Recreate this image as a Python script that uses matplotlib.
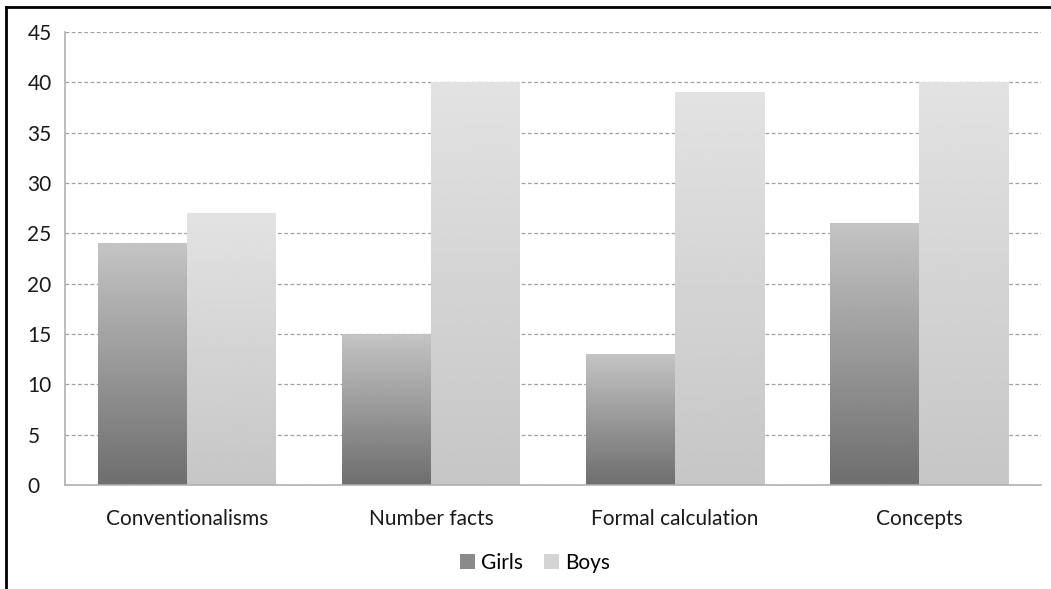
import numpy as np
import matplotlib.pyplot as plt
from matplotlib.patches import Patch
from matplotlib.lines import Line2D
plt.rcParams['font.family'] = ['Lato', 'DejaVu Sans']

categories = ['Conventionalisms', 'Number facts', 'Formal calculation', 'Concepts']
girls = [24, 15, 13, 26]
boys = [27, 40, 39, 40]

fig = plt.figure(figsize=(10.51, 5.89), dpi=100)
ax = fig.add_axes([65/1051, 1-485/589, (1041-65)/1051, (485-32)/589])

x = np.arange(len(categories))
w = 89/244

def grad_bar(xc, h, top, bottom):
    # vertical gradient from bottom colour to top colour
    g = np.linspace(bottom, top, 256).reshape(-1, 1)
    ax.imshow(g, cmap='gray', vmin=0, vmax=1, origin='lower', aspect='auto',
              extent=[xc - w/2, xc + w/2, 0, h], zorder=2)

for i in range(len(categories)):
    grad_bar(x[i] - w/2, girls[i], 0xc4/255, 0x6e/255)
    grad_bar(x[i] + w/2, boys[i], 0xe2/255, 0xc6/255)

ax.set_xlim(-0.5, len(categories) - 0.5)
ax.set_ylim(0, 45)
ax.set_yticks(range(0, 46, 5))
ax.set_xticks(x)
ax.set_xticklabels(categories)
ax.tick_params(length=0, labelsize=15, colors='#1a1a1a')
ax.tick_params(axis='y', pad=27)
ax.tick_params(axis='x', pad=17)
for lbl in ax.get_yticklabels():
    lbl.set_horizontalalignment('left')
ax.yaxis.grid(True, linestyle=(0, (3, 2)), color='#a0a0a0', linewidth=0.9)
ax.set_axisbelow(True)
for s in ['top', 'right']:
    ax.spines[s].set_visible(False)
for s in ['left', 'bottom']:
    ax.spines[s].set_color('#b0b0b0')
    ax.spines[s].set_linewidth(1.2)

handles = [Patch(facecolor='#8a8a8a', edgecolor='none', label='Girls'),
           Patch(facecolor='#d4d4d4', edgecolor='none', label='Boys')]
fig.legend(handles=handles, loc='center', bbox_to_anchor=(535/1051, 1-563/589), ncol=2,
           frameon=False, fontsize=15, handlelength=0.7, handleheight=0.7,
           handletextpad=0.3, columnspacing=1.0)

# outer frame (left and top visible)
fig.add_artist(Line2D([5.5/1051, 5.5/1051], [0, 1-7/589], color='black', linewidth=2))
fig.add_artist(Line2D([5.5/1051, 1], [1-7/589, 1-7/589], color='black', linewidth=2))

fig.savefig('out.png', dpi=100)
